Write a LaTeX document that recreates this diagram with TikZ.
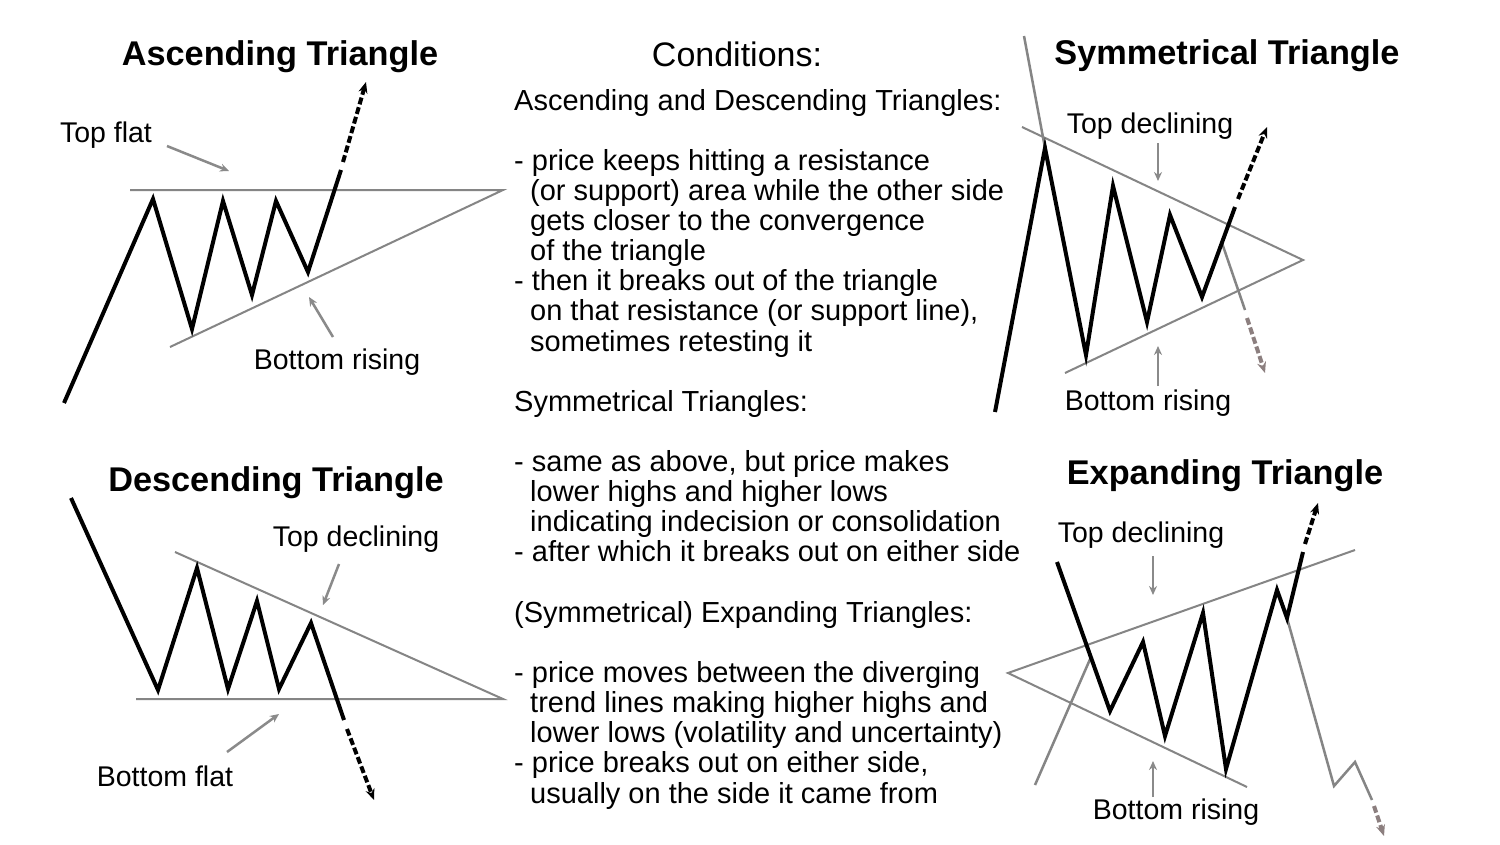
\documentclass[tikz,border=0pt]{standalone}
\usepackage{fontspec}
\setmainfont{Liberation Sans}
\usetikzlibrary{arrows.meta}
\definecolor{trendgray}{HTML}{858585}
\definecolor{arrgray}{HTML}{8A8A8A}
\definecolor{brngray}{HTML}{8C7F7F}
\begin{document}
\begin{tikzpicture}[x=1pt,y=-1pt,
  price/.style={line width=4pt, black, line join=miter, line cap=butt},
  trend/.style={line width=2pt, trendgray},
  alt/.style={line width=2.5pt, trendgray, line join=miter},
  ptr/.style={line width=2.5pt, arrgray, -{Stealth[length=9pt,width=8pt]}},
  brk/.style={line width=4pt, black, dash pattern=on 7pt off 3pt, -{Stealth[length=11pt,width=9pt]}},
  gbrk/.style={line width=4pt, brngray, dash pattern=on 7pt off 3pt, -{Stealth[length=11pt,width=9pt]}},
  title/.style={font=\fontsize{34.3}{40}\selectfont\bfseries, inner sep=0pt},
  cond/.style={font=\fontsize{34}{40}\selectfont, inner sep=0pt},
  lbl/.style={font=\fontsize{28.5}{34}\selectfont, inner sep=0pt},
  body/.style={font=\fontsize{29}{34}\selectfont, inner sep=0pt, anchor=base west}]
\useasboundingbox (0,0) rectangle (1500,844);
\fill[white] (0,0) rectangle (1500,844);

% ---------------- Titles ----------------
\node[title] (tasc) at (280,57) {Ascending Triangle};
\node[title] (tdesc) at (276,483) {Descending Triangle};
\node[title] (tsym) at (1227,56) {Symmetrical Triangle};
\node[title] (texp) at (1225,476) {Expanding Triangle};
\node[cond] (tcond) at (737,54) {Conditions:};

% ---------------- Conditions text ----------------
\foreach \k/\xx/\t [count=\n] in {
  0/514/{Ascending and Descending Triangles:},
  2/514/{- price keeps hitting a resistance},
  3/530/{(or support) area while the other side},
  4/530/{gets closer to the convergence},
  5/530/{of the triangle},
  6/514/{- then it breaks out of the triangle},
  7/530/{on that resistance (or support line),},
  8/530/{sometimes retesting it},
  10/514/{Symmetrical Triangles:},
  12/514/{- same as above, but price makes},
  13/530/{lower highs and higher lows},
  14/530/{indicating indecision or consolidation},
  15/514/{- after which it breaks out on either side},
  17/514/{(Symmetrical) Expanding Triangles:},
  19/514/{- price moves between the diverging},
  20/530/{trend lines making higher highs and},
  21/530/{lower lows (volatility and uncertainty)},
  22/514/{- price breaks out on either side,},
  23/530/{usually on the side it came from}}
  \node[body, name=ln\n] at (\xx,{110+30.13*\k}) {\t};

% ---------------- Ascending triangle ----------------
\coordinate (a0) at (64,403);
\coordinate (a1) at (153,199);
\coordinate (a2) at (192,329);
\coordinate (a3) at (223,201);
\coordinate (a4) at (252,295);
\coordinate (a5) at (276,201);
\coordinate (a6) at (308,272);
\coordinate (a7) at (341,170);
\coordinate (a8) at (343,162);
\coordinate (a9) at (366,82);
\coordinate (atl) at (130,190);
\coordinate (aapex) at (503,190);
\coordinate (abl) at (170,347);
\draw[trend] (atl) -- (aapex) -- (abl);
\draw[price] (a0) -- (a1) -- (a2) -- (a3) -- (a4) -- (a5) -- (a6) -- (a7);
\draw[brk] (a8) -- (a9);
\node[lbl] (ltopflat) at (106,135) {Top flat};
\node[lbl] (lbotrise) at (337,362) {Bottom rising};
\coordinate (p1s) at (167,146); \coordinate (p1e) at (229,171);
\coordinate (p2s) at (333,337); \coordinate (p2e) at (309,297);
\draw[ptr] (p1s) -- (p1e);
\draw[ptr] (p2s) -- (p2e);

% ---------------- Descending triangle ----------------
\coordinate (d0) at (71,498);
\coordinate (d1) at (158,690);
\coordinate (d2) at (197,568);
\coordinate (d3) at (228,689);
\coordinate (d4) at (257,601);
\coordinate (d5) at (279,689);
\coordinate (d6) at (311,623);
\coordinate (d7) at (344,720);
\coordinate (d8) at (347,729);
\coordinate (d9) at (374,800);
\coordinate (dtl) at (175,552);
\coordinate (dapex) at (503,699);
\coordinate (dbl) at (136,699);
\draw[trend] (dtl) -- (dapex) -- (dbl);
\draw[price] (d0) -- (d1) -- (d2) -- (d3) -- (d4) -- (d5) -- (d6) -- (d7);
\draw[brk] (d8) -- (d9);
\node[lbl] (ltopdecl) at (356,539) {Top declining};
\node[lbl] (lbotflat) at (165,776) {Bottom flat};
\coordinate (p3s) at (339,564); \coordinate (p3e) at (323,605);
\coordinate (p4s) at (227,752); \coordinate (p4e) at (279,714);
\draw[ptr] (p3s) -- (p3e);
\draw[ptr] (p4s) -- (p4e);

% ---------------- Symmetrical triangle ----------------
\coordinate (s0) at (995,412);
\coordinate (s1) at (1045,148);
\coordinate (s2) at (1086,355);
\coordinate (s3) at (1113,186);
\coordinate (s4) at (1147,322);
\coordinate (s5) at (1170,215);
\coordinate (s6) at (1202,297);
\coordinate (s7) at (1235,207);
\coordinate (s8) at (1238,199);
\coordinate (s9) at (1267,127);
\coordinate (sg0) at (1024,36);
\coordinate (sg1) at (1222,243);
\coordinate (sg2) at (1245,310);
\coordinate (sg3) at (1247,318);
\coordinate (sg4) at (1265,373);
\coordinate (stl) at (1022,127);
\coordinate (sapex) at (1303,260);
\coordinate (sbl) at (1065,373);
\draw[trend] (stl) -- (sapex) -- (sbl);
\draw[alt] (sg0) -- (s1);
\draw[alt] (sg1) -- (sg2);
\draw[gbrk] (sg3) -- (sg4);
\draw[price] (s0) -- (s1) -- (s2) -- (s3) -- (s4) -- (s5) -- (s6) -- (s7);
\draw[brk] (s8) -- (s9);
\node[lbl] (lsymtop) at (1150,126) {Top declining};
\node[lbl] (lsymbot) at (1148,403) {Bottom rising};
\coordinate (p5s) at (1158,143); \coordinate (p5e) at (1158,181);
\coordinate (p6s) at (1158,386); \coordinate (p6e) at (1158,346);
\draw[ptr] (p5s) -- (p5e);
\draw[ptr] (p6s) -- (p6e);

% ---------------- Expanding triangle ----------------
\coordinate (e0) at (1057,562);
\coordinate (e1) at (1110,711);
\coordinate (e2) at (1143,642);
\coordinate (e3) at (1165,736);
\coordinate (e4) at (1203,613);
\coordinate (e5) at (1226,769);
\coordinate (e6) at (1277,590);
\coordinate (e7) at (1287,618);
\coordinate (e8) at (1303,552);
\coordinate (e9) at (1305,544);
\coordinate (e10) at (1318,503);
\coordinate (eapex) at (1008,673);
\coordinate (etr) at (1355,550);
\coordinate (ebr) at (1247,787);
\coordinate (eg0) at (1035,785);
\coordinate (eg1) at (1091,657);
\coordinate (eg2) at (1334,786);
\coordinate (eg3) at (1355,762);
\coordinate (eg4) at (1372,800);
\coordinate (eg5) at (1374,806);
\coordinate (eg6) at (1384,836);
\draw[trend] (etr) -- (eapex) -- (ebr);
\draw[alt] (eg0) -- (eg1);
\draw[alt] (e7) -- (eg2) -- (eg3) -- (eg4);
\draw[gbrk] (eg5) -- (eg6);
\draw[price] (e0) -- (e1) -- (e2) -- (e3) -- (e4) -- (e5) -- (e6) -- (e7) -- (e8);
\draw[brk] (e9) -- (e10);
\node[lbl] (lexptop) at (1141,535) {Top declining};
\node[lbl] (lexpbot) at (1176,812) {Bottom rising};
\coordinate (p7s) at (1153,556); \coordinate (p7e) at (1153,595);
\coordinate (p8s) at (1153,797); \coordinate (p8e) at (1153,761);
\draw[ptr] (p7s) -- (p7e);
\draw[ptr] (p8s) -- (p8e);
\end{tikzpicture}
\end{document}
